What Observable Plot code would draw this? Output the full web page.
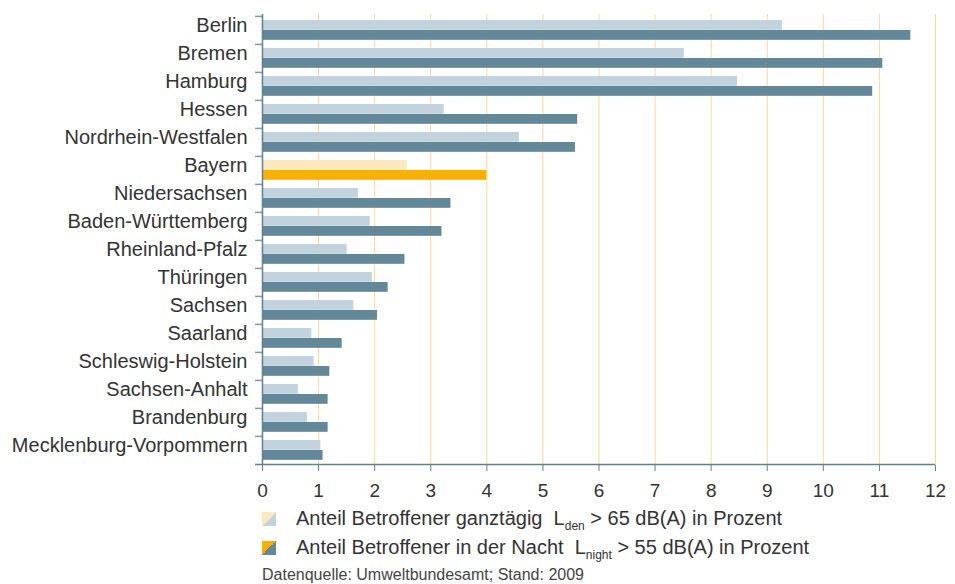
<!DOCTYPE html>
<html><head><meta charset="utf-8">
<script src="https://cdn.jsdelivr.net/npm/d3@7"></script>
<script src="https://cdn.jsdelivr.net/npm/@observablehq/plot@0.6"></script>
<style>
body{margin:0;background:#fff;font-family:"Liberation Sans",Arial,sans-serif;color:#333;}
#chart{width:955px;height:500px;}
.legend{margin-left:262px;font-size:20px;margin-top:4px;}
.row{display:flex;align-items:center;height:29px;}
.sw{width:14px;height:14px;margin-right:20px;flex:none;}
.sub{font-size:12px;position:relative;top:5px;}
.cap{margin-left:262px;font-size:16px;color:#444;margin-top:4px;}
</style></head>
<body><div id="chart"></div>
<div class="legend">
  <div class="row"><div class="sw" style="background:linear-gradient(to bottom right,#fde9c0 50%,#c2d3de 50%)"></div><span>Anteil Betroffener ganztägig&nbsp; L<span class="sub">den</span> &gt; 65 dB(A) in Prozent</span></div>
  <div class="row"><div class="sw" style="background:linear-gradient(to bottom right,#f9b000 50%,#638899 50%)"></div><span>Anteil Betroffener in der Nacht&nbsp; L<span class="sub">night</span> &gt; 55 dB(A) in Prozent</span></div>
</div>
<div class="cap">Datenquelle: Umweltbundesamt; Stand: 2009</div>
<script>
const states = ["Berlin","Bremen","Hamburg","Hessen","Nordrhein-Westfalen","Bayern","Niedersachsen","Baden-Württemberg","Rheinland-Pfalz","Thüringen","Sachsen","Saarland","Schleswig-Holstein","Sachsen-Anhalt","Brandenburg","Mecklenburg-Vorpommern"];
const ganztaegig = [9.27,7.52,8.47,3.24,4.58,2.58,1.71,1.92,1.51,1.96,1.63,0.88,0.92,0.64,0.80,1.04];
const nacht = [11.56,11.06,10.88,5.62,5.58,4.0,3.36,3.20,2.54,2.24,2.05,1.42,1.20,1.17,1.17,1.08];
const highlight = "Bayern";
const xTicks = [0,1,2,3,4,5,6,7,8,9,10,11,12];

const data = states.map((s,i)=>({state:s, day:ganztaegig[i], night:nacht[i], hl:s===highlight}));
const lastState = states[states.length-1];

const plot = Plot.plot({
  width:955, height:500,
  marginLeft:262, marginRight:20, marginTop:14, marginBottom:35,
  style:{fontFamily:"'Liberation Sans', Arial, sans-serif", color:"#333", background:"#fff"},
  x:{domain:[0,12], ticks:xTicks, label:null},
  y:{type:"band", domain:states, padding:0, label:null},
  color:{type:"identity"},
  marks:[
    Plot.ruleX(xTicks.slice(1), {stroke:"#fcd896", strokeWidth:1}),
    Plot.barX(data, {x:"day", y:"state", fill:d=>d.hl?"#fde9c0":"#c2d3de", insetTop:4, insetBottom:14.19}),
    Plot.barX(data, {x:"night", y:"state", fill:d=>d.hl?"#f9b000":"#638899", insetTop:14, insetBottom:4.19}),
    Plot.ruleY(states, {y:d=>d, dy:-14.09, x1:-0.125, x2:0, stroke:"#7f9cad", strokeWidth:1.5}),
    Plot.ruleY([lastState], {y:d=>d, dy:14.09, x1:-0.125, x2:12, stroke:"#5f8194", strokeWidth:1.5}),
    Plot.ruleX([0], {stroke:"#5f8194", strokeWidth:1.5}),
    Plot.axisX({ticks:xTicks, tickSize:6, tickPadding:12, stroke:"#5f8194", fontSize:19, fill:"#333", label:null, tickFormat:d=>String(d)}),
    Plot.axisY({tickSize:0, tickPadding:15, dy:-5, fontSize:20, fill:"#333", label:null})
  ]
});
document.getElementById("chart").appendChild(plot);
</script>
</body></html>
